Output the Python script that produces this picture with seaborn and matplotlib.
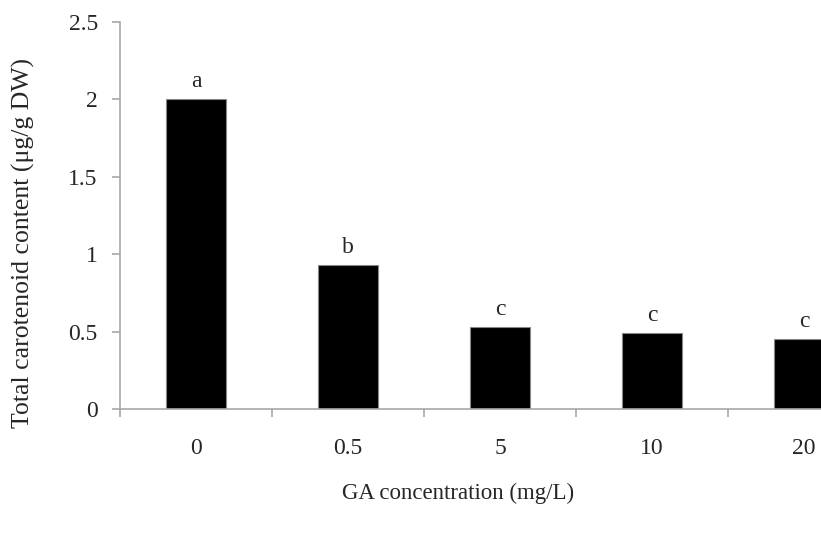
import matplotlib
matplotlib.use("Agg")
import matplotlib.pyplot as plt
import seaborn as sns
import pandas as pd
from matplotlib.ticker import FixedLocator

categories = ["0", "0.5", "5", "10", "20"]
values = [2.0, 0.93, 0.53, 0.49, 0.45]
letters = ["a", "b", "c", "c", "c"]
y_ticks = [0, 0.5, 1, 1.5, 2, 2.5]
y_tick_labels = ["0", "0.5", "1", "1.5", "2", "2.5"]

sns.set_style("white")
plt.rcParams['font.family'] = ['Liberation Serif', 'DejaVu Serif']

df = pd.DataFrame({"conc": categories, "val": values})

fig = plt.figure(figsize=(8.21, 5.34), dpi=100)
W, H = 821, 534
ax = fig.add_axes([120 / W, (H - 409) / H, 760 / W, 387 / H])

sns.barplot(data=df, x="conc", y="val", order=categories, color="black",
            width=0.4, edgecolor="#888888", linewidth=0.8, saturation=1, ax=ax)

ax.set_xlim(-0.5, 4.5)
ax.set_ylim(0, 2.5)
for s in ["top", "right"]:
    ax.spines[s].set_visible(False)
for s in ["left", "bottom"]:
    ax.spines[s].set_color("#a8a8a8")
    ax.spines[s].set_linewidth(1.2)

ax.set_yticks(y_ticks)
ax.set_yticklabels(y_tick_labels, fontsize=17)
ax.tick_params(axis="y", direction="out", length=6, width=1.2, color="#a8a8a8", pad=10, left=True)

ax.xaxis.set_major_locator(FixedLocator([-0.5, 0.5, 1.5, 2.5, 3.5, 4.5]))
ax.xaxis.set_minor_locator(FixedLocator(list(range(len(categories)))))
ax.set_xticklabels([""] * 6)
ax.set_xticklabels(categories, minor=True, fontsize=17)
ax.tick_params(axis="x", which="major", direction="out", length=6, width=1.2, color="#a8a8a8", bottom=True)
ax.tick_params(axis="x", which="minor", length=0, pad=21, bottom=True)

ax.set_xlabel("")
ax.set_ylabel("")

for i, (v, l) in enumerate(zip(values, letters)):
    ax.annotate(l, (i, v), xytext=(0, 5), textcoords="offset points",
                ha="center", va="bottom", fontsize=17)

fig.text(23 / W, (H - 243) / H, "Total carotenoid content (μg/g DW)", rotation=90,
         ha="center", va="center", fontsize=18.5)
fig.text(458 / W, (H - 493) / H, "GA concentration (mg/L)", ha="center", va="center", fontsize=16.5)

fig.savefig("out.png", dpi=100)
